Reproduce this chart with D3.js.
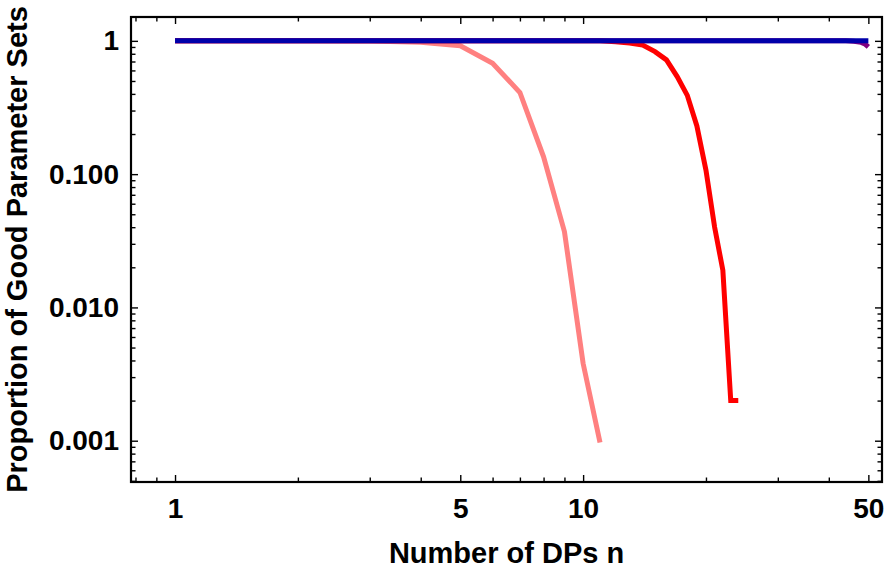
<!DOCTYPE html>
<html>
<head>
<meta charset="utf-8">
<script src="https://cdn.jsdelivr.net/npm/d3@7"></script>
<style>
    body { margin: 0; background: #fff; }
    svg { display: block; }
    text { font-family: "Liberation Sans", Arial, sans-serif; font-weight: bold; fill: #000; }
</style>
</head>
<body>
<script>
// number of DPs n (x values)
const dpCounts = [1, 2, 3, 4, 5, 6, 7, 8, 9, 10, 11, 12, 13, 14, 15, 16, 17, 18, 19, 20,
    21, 22, 23, 24, 25, 26, 27, 28, 29, 30, 31, 32, 33, 34, 35, 36, 37, 38, 39, 40,
    41, 42, 43, 44, 45, 46, 47, 48, 49, 50];

// proportion of good parameter sets, one array per curve (starting at n = 1)
const lightRedProp = [1, 1, 0.998, 0.975, 0.92, 0.68, 0.41, 0.135, 0.037, 0.0038, 0.00097];
const redProp = [1, 1, 1, 1, 1, 1, 1, 1, 1, 1, 1, 0.985, 0.965, 0.93, 0.83, 0.72, 0.54, 0.39,
    0.23, 0.107, 0.040, 0.019, 0.002, 0.002];
const purpleProp = [1, 1, 1, 1, 1, 1, 1, 1, 1, 1, 1, 1, 1, 1, 1, 1, 1, 1, 1, 1,
    1, 1, 1, 1, 1, 1, 1, 1, 1, 1, 1, 1, 1, 1, 1, 1, 1, 1, 1, 1,
    1, 1, 1, 1, 0.997, 0.992, 0.985, 0.975, 0.95, 0.9];
const blueProp = [1, 1, 1, 1, 1, 1, 1, 1, 1, 1, 1, 1, 1, 1, 1, 1, 1, 1, 1, 1,
    1, 1, 1, 1, 1, 1, 1, 1, 1, 1, 1, 1, 1, 1, 1, 1, 1, 1, 1, 1,
    1, 1, 1, 1, 1, 1, 1, 1, 1, 1];

// ticks
const xMajorTicks = [1, 5, 10, 50];
const xMinorTicks = [0.8, 0.9, 2, 3, 4, 6, 7, 8, 9, 20, 30, 40];
const yMajorTicks = [1, 0.1, 0.01, 0.001];
const yMajorLabels = ["1", "0.100", "0.010", "0.001"];
const yMinorTicks = [0.9, 0.8, 0.7, 0.6, 0.5, 0.4, 0.3, 0.2,
    0.09, 0.08, 0.07, 0.06, 0.05, 0.04, 0.03, 0.02,
    0.009, 0.008, 0.007, 0.006, 0.005, 0.004, 0.003, 0.002,
    0.0009, 0.0008, 0.0007, 0.0006, 0.0005];

const width = 885, height = 570;
const frame = { left: 131, right: 882, top: 17, bottom: 482 };

const series = [
    { values: lightRedProp, color: "#ff8080" },
    { values: redProp, color: "#ff0000" },
    { values: purpleProp, color: "#800080" },
    { values: blueProp, color: "#0000aa" }
];

const xScale = d3.scaleLog()
    .domain([0.78, 54])
    .range([frame.left, frame.right]);
const yScale = d3.scaleLog()
    .domain([1.51, 0.00049])
    .range([frame.top, frame.bottom]);

const svg = d3.select("body")
    .append("svg")
    .attr("width", width)
    .attr("height", height);

// curves
const line = d3.line()
    .x(d => xScale(d[0]))
    .y(d => yScale(d[1]));

svg.append("g")
    .selectAll("path")
    .data(series)
    .enter()
    .append("path")
    .attr("d", s => line(s.values.map((v, i) => [dpCounts[i], v])))
    .attr("fill", "none")
    .attr("stroke", s => s.color)
    .attr("stroke-width", 5)
    .attr("stroke-linejoin", "miter");

// axes: ticks point inward on all four sides
const addAxis = (axis, tx, ty) => {
    const g = svg.append("g")
        .attr("transform", "translate(" + tx + "," + ty + ")")
        .call(axis);
    g.select(".domain").remove();
    g.selectAll("line").attr("stroke-width", 1.4);
    g.selectAll("text")
        .attr("font-size", 28)
        .attr("font-family", "Liberation Sans, Arial, sans-serif")
        .attr("font-weight", "bold")
        .attr("fill", "#000");
    return g;
};

const majorLen = 7, minorLen = 4.5;

// bottom
addAxis(d3.axisBottom(xScale).tickValues(xMajorTicks).tickFormat(d3.format("d"))
    .tickSize(-majorLen).tickPadding(16), 0, frame.bottom);
addAxis(d3.axisBottom(xScale).tickValues(xMinorTicks).tickFormat("")
    .tickSize(-minorLen), 0, frame.bottom);
// top
addAxis(d3.axisTop(xScale).tickValues(xMajorTicks).tickFormat("")
    .tickSize(-majorLen), 0, frame.top);
addAxis(d3.axisTop(xScale).tickValues(xMinorTicks).tickFormat("")
    .tickSize(-minorLen), 0, frame.top);
// left
addAxis(d3.axisLeft(yScale).tickValues(yMajorTicks).tickFormat((d, i) => yMajorLabels[i])
    .tickSize(-majorLen).tickPadding(12), frame.left, 0);
addAxis(d3.axisLeft(yScale).tickValues(yMinorTicks).tickFormat("")
    .tickSize(-minorLen), frame.left, 0);
// right
addAxis(d3.axisRight(yScale).tickValues(yMajorTicks).tickFormat("")
    .tickSize(-majorLen), frame.right, 0);
addAxis(d3.axisRight(yScale).tickValues(yMinorTicks).tickFormat("")
    .tickSize(-minorLen), frame.right, 0);

// frame
svg.append("rect")
    .attr("x", frame.left)
    .attr("y", frame.top)
    .attr("width", frame.right - frame.left)
    .attr("height", frame.bottom - frame.top)
    .attr("fill", "none")
    .attr("stroke", "#000")
    .attr("stroke-width", 2.2);

// axis titles
svg.append("text")
    .attr("x", (frame.left + frame.right) / 2)
    .attr("y", 563)
    .attr("text-anchor", "middle")
    .attr("font-size", 29)
    .text("Number of DPs n");

svg.append("text")
    .attr("transform", "translate(27," + (frame.top + frame.bottom) / 2 + ") rotate(-90)")
    .attr("text-anchor", "middle")
    .attr("font-size", 29)
    .text("Proportion of Good Parameter Sets");
</script>
</body>
</html>
